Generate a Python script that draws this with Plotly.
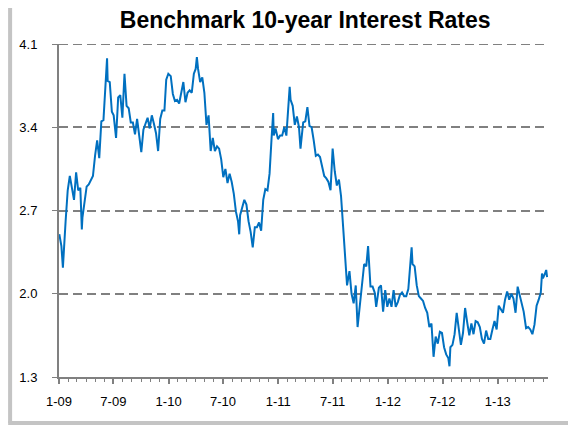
import pandas as pd
import plotly.graph_objects as go

# ---- data (approximate 10-year benchmark yield, %) ----
dates_2009 = ["2009-01-02","2009-01-09","2009-01-14","2009-01-16","2009-01-23","2009-01-30","2009-02-06","2009-02-13",
              "2009-02-20","2009-02-27","2009-03-06","2009-03-13","2009-03-18","2009-03-20","2009-03-27","2009-04-03",
              "2009-04-10","2009-04-17","2009-04-24","2009-05-01","2009-05-08","2009-05-15","2009-05-22","2009-05-29",
              "2009-06-05","2009-06-10","2009-06-12","2009-06-19","2009-06-26","2009-07-02","2009-07-10","2009-07-17",
              "2009-07-24","2009-07-31","2009-08-07","2009-08-14","2009-08-21","2009-08-28","2009-09-04","2009-09-11",
              "2009-09-18","2009-09-25","2009-10-02","2009-10-09","2009-10-16","2009-10-23","2009-10-30","2009-11-06",
              "2009-11-13","2009-11-20","2009-11-27","2009-12-04","2009-12-11","2009-12-18","2009-12-24","2009-12-31"]
yields_2009 = [2.50, 2.40, 2.22, 2.32, 2.61, 2.87, 2.99, 2.89,
               2.79, 3.02, 2.87, 2.89, 2.54, 2.64, 2.76, 2.90,
               2.92, 2.95, 2.99, 3.16, 3.29, 3.14, 3.45, 3.46,
               3.83, 3.98, 3.79, 3.78, 3.53, 3.50, 3.31, 3.65,
               3.67, 3.48, 3.85, 3.58, 3.56, 3.44, 3.44, 3.34,
               3.47, 3.31, 3.19, 3.38, 3.43, 3.48, 3.39, 3.50,
               3.43, 3.35, 3.20, 3.47, 3.54, 3.54, 3.80, 3.85]

dates_2010 = ["2010-01-08","2010-01-15","2010-01-22","2010-01-29","2010-02-05","2010-02-12","2010-02-19","2010-02-26",
              "2010-03-05","2010-03-12","2010-03-19","2010-03-26","2010-04-01","2010-04-05","2010-04-09","2010-04-16",
              "2010-04-23","2010-04-30","2010-05-07","2010-05-14","2010-05-21","2010-05-28","2010-06-04","2010-06-11",
              "2010-06-18","2010-06-25","2010-07-02","2010-07-09","2010-07-16","2010-07-23","2010-07-30","2010-08-06",
              "2010-08-13","2010-08-20","2010-08-24","2010-08-27","2010-09-03","2010-09-10","2010-09-17","2010-09-24",
              "2010-10-01","2010-10-08","2010-10-15","2010-10-22","2010-10-29","2010-11-05","2010-11-12","2010-11-19",
              "2010-11-26","2010-12-03","2010-12-10","2010-12-15","2010-12-17","2010-12-23","2010-12-31"]
yields_2010 = [3.83, 3.68, 3.62, 3.63, 3.60, 3.69, 3.78, 3.61,
               3.69, 3.71, 3.69, 3.85, 3.89, 3.99, 3.89, 3.78,
               3.82, 3.69, 3.42, 3.50, 3.20, 3.31, 3.20, 3.24,
               3.22, 3.13, 2.98, 3.05, 2.93, 3.01, 2.94, 2.84,
               2.69, 2.61, 2.50, 2.66, 2.72, 2.79, 2.75, 2.61,
               2.52, 2.39, 2.56, 2.56, 2.60, 2.53, 2.79, 2.88,
               2.87, 3.01, 3.32, 3.52, 3.33, 3.39, 3.30]

dates_2011 = ["2011-01-07","2011-01-14","2011-01-21","2011-01-28","2011-02-04","2011-02-08","2011-02-11","2011-02-18",
              "2011-02-25","2011-03-04","2011-03-11","2011-03-16","2011-03-18","2011-03-25","2011-04-01","2011-04-08",
              "2011-04-15","2011-04-22","2011-04-29","2011-05-06","2011-05-13","2011-05-20","2011-05-27","2011-06-03",
              "2011-06-10","2011-06-17","2011-06-24","2011-07-01","2011-07-08","2011-07-15","2011-07-22","2011-07-29",
              "2011-08-05","2011-08-12","2011-08-18","2011-08-26","2011-09-02","2011-09-09","2011-09-16","2011-09-22",
              "2011-09-30","2011-10-07","2011-10-14","2011-10-21","2011-10-27","2011-11-04","2011-11-11","2011-11-18",
              "2011-11-23","2011-12-02","2011-12-09","2011-12-16","2011-12-23","2011-12-30"]
yields_2011 = [3.33, 3.33, 3.40, 3.33, 3.64, 3.74, 3.63, 3.58,
               3.42, 3.49, 3.40, 3.22, 3.27, 3.44, 3.45, 3.57,
               3.41, 3.40, 3.29, 3.16, 3.17, 3.15, 3.07, 2.99,
               2.97, 2.94, 2.87, 3.22, 3.03, 2.91, 2.96, 2.82,
               2.56, 2.24, 2.07, 2.19, 2.00, 1.92, 2.07, 1.72,
               1.92, 2.08, 2.25, 2.23, 2.40, 2.06, 2.06, 2.01,
               1.89, 2.05, 2.07, 1.85, 2.03, 1.89]

dates_2012 = ["2012-01-06","2012-01-13","2012-01-20","2012-01-27","2012-02-03","2012-02-10","2012-02-17","2012-02-24",
              "2012-03-02","2012-03-09","2012-03-16","2012-03-20","2012-03-23","2012-03-30","2012-04-06","2012-04-13",
              "2012-04-20","2012-04-27","2012-05-04","2012-05-11","2012-05-18","2012-05-25","2012-06-01","2012-06-08",
              "2012-06-15","2012-06-22","2012-06-29","2012-07-06","2012-07-13","2012-07-20","2012-07-24","2012-07-27",
              "2012-08-03","2012-08-10","2012-08-17","2012-08-24","2012-08-31","2012-09-07","2012-09-14","2012-09-21",
              "2012-09-28","2012-10-05","2012-10-12","2012-10-19","2012-10-26","2012-11-02","2012-11-09","2012-11-16",
              "2012-11-23","2012-11-30","2012-12-07","2012-12-14","2012-12-21","2012-12-28"]
yields_2012 = [1.96, 1.89, 2.03, 1.89, 1.93, 1.99, 2.01, 1.98,
               1.98, 2.04, 2.30, 2.39, 2.25, 2.23, 2.07, 1.98,
               1.96, 1.94, 1.88, 1.84, 1.72, 1.75, 1.47, 1.64,
               1.58, 1.68, 1.67, 1.55, 1.49, 1.46, 1.39, 1.55,
               1.57, 1.66, 1.84, 1.69, 1.57, 1.67, 1.88, 1.76,
               1.65, 1.75, 1.66, 1.77, 1.76, 1.72, 1.62, 1.58,
               1.69, 1.62, 1.62, 1.70, 1.77, 1.70]

dates_2013 = ["2013-01-04","2013-01-11","2013-01-18","2013-01-25","2013-02-01","2013-02-08","2013-02-15","2013-02-22",
              "2013-03-01","2013-03-08","2013-03-15","2013-03-22","2013-03-28","2013-04-05","2013-04-12","2013-04-19",
              "2013-04-26","2013-05-03","2013-05-10","2013-05-17","2013-05-24","2013-05-28","2013-05-31","2013-06-07",
              "2013-06-11","2013-06-14"]
yields_2013 = [1.90, 1.87, 1.84, 1.95, 2.02, 1.95, 2.00, 1.96,
               1.84, 2.06, 1.99, 1.93, 1.85, 1.71, 1.72, 1.70,
               1.66, 1.74, 1.90, 1.95, 2.01, 2.17, 2.13, 2.17,
               2.20, 2.14]

tick_dates = ["2009-01-01","2009-07-01","2010-01-01","2010-07-01","2011-01-01",
              "2011-07-01","2012-01-01","2012-07-01","2013-01-01"]
tick_labels = ["1-09","7-09","1-10","7-10","1-11","7-11","1-12","7-12","1-13"]
y_ticks = [1.3, 2.0, 2.7, 3.4, 4.1]

dates = pd.to_datetime(dates_2009 + dates_2010 + dates_2011 + dates_2012 + dates_2013)
yields = yields_2009 + yields_2010 + yields_2011 + yields_2012 + yields_2013

fig = go.Figure()
fig.add_trace(go.Scatter(x=dates, y=yields, mode="lines",
                         line=dict(color="#0070C0", width=2), showlegend=False))

grey = "#808080"
fig.update_layout(
    width=576, height=432,
    margin=dict(l=51, r=36, t=36, b=63),
    paper_bgcolor="white", plot_bgcolor="white",
    font=dict(family="Liberation Sans, Arial, sans-serif", size=13, color="black"),
    title=dict(text="<b>Benchmark 10-year Interest Rates</b>", x=0.516, xref="container",
               y=0.972, yref="container", xanchor="center", yanchor="middle",
               font=dict(size=23, color="black")),
    xaxis=dict(type="date", range=["2009-01-01", "2013-06-17"],
               tickvals=tick_dates, ticktext=tick_labels,
               showline=True, linecolor=grey, linewidth=2,
               ticks="outside", ticklen=5, tickwidth=2, tickcolor=grey,
               ticklabelstandoff=6,
               showgrid=False, zeroline=False,
               minor=dict(ticks="outside", dtick="M1", tick0="2009-01-01",
                          ticklen=3, tickwidth=1, tickcolor=grey, showgrid=False)),
    yaxis=dict(range=[1.3, 4.1], tickvals=y_ticks,
               ticktext=[f"{v:.1f}" for v in y_ticks],
               showline=True, linecolor=grey, linewidth=2,
               ticks="outside", ticklen=5, tickwidth=1, tickcolor=grey,
               ticklabelstandoff=12,
               showgrid=True, gridcolor=grey, gridwidth=2, griddash="9px,5px",
               zeroline=False),
    shapes=[
        dict(type="line", xref="paper", yref="y", x0=0, x1=1, y0=y_ticks[-1], y1=y_ticks[-1],
             line=dict(color=grey, width=2, dash="9px,5px")),
        dict(type="line", xref="paper", yref="paper", x0=-0.1, x1=-0.1, y0=-0.138, y1=1.2,
             line=dict(color="#c4c4c4", width=4)),
        dict(type="line", xref="paper", yref="paper", x0=-0.104, x1=1.1, y0=-0.138, y1=-0.138,
             line=dict(color="#c4c4c4", width=4)),
    ],
)

fig.write_html("out.html")
